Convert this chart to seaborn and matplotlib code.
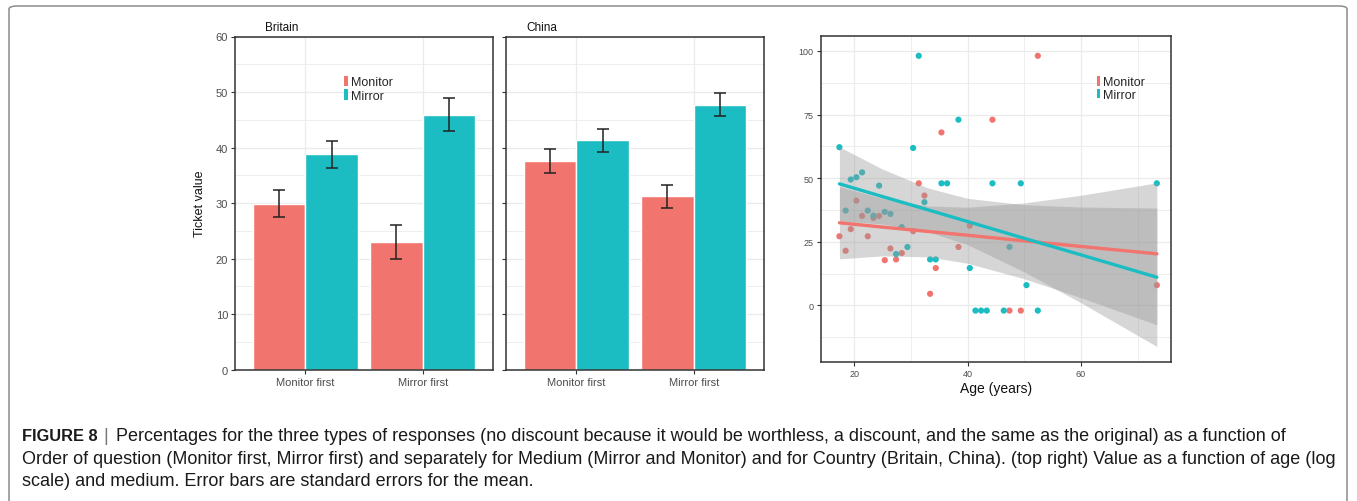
import numpy as np
import pandas as pd
import matplotlib
matplotlib.use("Agg")
import matplotlib.pyplot as plt
from matplotlib.patches import Patch, FancyBboxPatch
from matplotlib.ticker import MultipleLocator
import seaborn as sns

# -------------------------------------
# DATA
# -------------------------------------
orders = ["Monitor first", "Mirror first"]
media = ["Monitor", "Mirror"]

britain_monitor = [29.9, 23.0]
britain_mirror = [38.8, 45.9]
britain_monitor_se = [2.45, 3.0]
britain_mirror_se = [2.4, 3.0]

china_monitor = [37.6, 31.2]
china_mirror = [41.3, 47.7]
china_monitor_se = [2.1, 2.0]
china_mirror_se = [2.1, 2.05]

monitor_age = [17.4, 18.5, 19.4, 20.4, 21.4, 22.4, 23.4, 24.4, 25.4, 26.4, 27.4, 28.4, 30.4,
               31.4, 32.4, 33.4, 34.4, 35.4, 38.4, 40.4, 44.4, 47.4, 49.4, 52.4, 73.4]
monitor_value = [27.2, 21.5, 30.0, 41.2, 35.2, 27.2, 34.4, 35.2, 17.8, 22.4, 18.1, 20.6, 29.2,
                 48.0, 43.2, 4.6, 14.7, 68.0, 23.0, 31.4, 73.0, -2.0, -2.0, 98.1, 8.0]

mirror_age = [17.4, 18.5, 19.4, 20.4, 21.4, 22.4, 23.4, 24.4, 25.4, 26.4, 27.4, 28.4, 29.4,
              30.4, 31.4, 32.4, 33.4, 34.4, 35.4, 36.4, 38.4, 40.4, 41.4, 42.4, 43.4, 44.4,
              46.4, 47.4, 49.4, 50.4, 52.4, 73.4]
mirror_value = [62.2, 37.3, 49.5, 50.4, 52.3, 37.3, 35.3, 47.1, 36.8, 36.0, 20.2, 30.8, 23.0,
                61.9, 98.1, 40.6, 18.1, 18.1, 48.0, 48.0, 73.0, 14.7, -2.0, -2.0, -2.0, 48.0,
                -2.0, 23.0, 48.0, 8.0, -2.0, 48.0]

# fitted lines and 95% bands
fit_age = [17.4, 25, 33, 40, 50, 60, 73.4]
monitor_fit = [32.5, 30.8, 29.1, 27.6, 25.4, 23.2, 20.3]
monitor_lo = [18.3, 19.5, 19.1, 16.6, 10.5, 3.1, -7.6]
monitor_hi = [46.7, 42.1, 39.1, 38.6, 40.3, 43.3, 48.2]
mirror_fit = [47.8, 42.8, 37.6, 33.0, 26.4, 19.9, 11.1]
mirror_lo = [33.3, 32.0, 29.0, 23.9, 13.2, 1.1, -16.1]
mirror_hi = [62.3, 53.6, 46.2, 42.1, 39.6, 38.7, 38.3]

RED = "#F2746E"
CYAN = "#1CBDC2"
palette = {"Monitor": RED, "Mirror": CYAN}
GRID = "#EBEBEB"
TICKTXT = "#4D4D4D"

sns.set_theme(style="white")
plt.rcParams["font.family"] = ["Liberation Sans", "DejaVu Sans"]

fig = plt.figure(figsize=(13.57, 5.02), dpi=100)
W, H = 1357, 502


def fx(px):
    return px / W


def fy(py):
    return 1 - py / H


# -------------------------------------
# BAR PANELS
# -------------------------------------
def bar_panel(left, monitor, mirror, monitor_se, mirror_se, show_labels):
    ax = fig.add_axes([fx(left), fy(370.7), 258 / W, (370.7 - 37.5) / H])
    df = pd.DataFrame({
        "order": orders * 2,
        "medium": ["Monitor"] * 2 + ["Mirror"] * 2,
        "value": monitor + mirror,
    })
    sns.barplot(data=df, x="order", y="value", hue="medium", hue_order=media,
                order=orders, palette=palette, width=0.9, gap=0, errorbar=None,
                saturation=1, legend=False, ax=ax, zorder=2)
    for container, se in zip(ax.containers, [monitor_se, mirror_se]):
        for bar, e in zip(container, se):
            x = bar.get_x() + bar.get_width() / 2
            ax.errorbar(x, bar.get_height(), yerr=e, color="#222222", lw=1.1,
                        capsize=4.3, capthick=1.1, zorder=3)
    ax.set_xlim(-0.6, 1.6)
    ax.set_ylim(0, 60)
    ax.yaxis.set_major_locator(MultipleLocator(10))
    ax.yaxis.set_minor_locator(MultipleLocator(5))
    ax.grid(True, which="major", color=GRID, lw=0.9, zorder=0)
    ax.grid(True, which="minor", axis="y", color=GRID, lw=0.6, zorder=0)
    ax.set_axisbelow(True)
    ax.set_xlabel("")
    ax.set_ylabel("")
    ax.tick_params(axis="both", which="major", length=3, width=0.8, color="#333333",
                   labelsize=8, labelcolor=TICKTXT, pad=2, bottom=True, left=True)
    ax.tick_params(axis="both", which="minor", length=0)
    if not show_labels:
        ax.set_yticklabels([])
    for s in ax.spines.values():
        s.set_color("#333333")
        s.set_linewidth(1.1)
    return ax


ax_b = bar_panel(235, britain_monitor, britain_mirror, britain_monitor_se, britain_mirror_se, True)
ax_c = bar_panel(506, china_monitor, china_mirror, china_monitor_se, china_mirror_se, False)

fig.text(fx(265), fy(28), "Britain", fontsize=8.5, va="center", ha="left", color="#111111")
fig.text(fx(526), fy(28), "China", fontsize=8.5, va="center", ha="left", color="#111111")
fig.text(fx(200), fy(204), "Ticket value", fontsize=9, rotation=90,
         va="center", ha="center", color="#111111")

handles = [Patch(facecolor=palette[m], edgecolor="none", label=m) for m in media]
ax_b.legend(handles=handles, loc="upper left", bbox_to_anchor=(fx(344), fy(77)),
            bbox_transform=fig.transFigure, frameon=False, fontsize=9,
            handlelength=0.35, handleheight=0.9, handletextpad=0.25,
            labelspacing=0.05, borderpad=0, borderaxespad=0)

# -------------------------------------
# SCATTER PANEL
# -------------------------------------
ax_s = fig.add_axes([fx(820.7), fy(363), (1171 - 820.7) / W, (363 - 36.7) / H])
pts = pd.DataFrame({
    "age": monitor_age + mirror_age,
    "value": monitor_value + mirror_value,
    "medium": ["Monitor"] * len(monitor_age) + ["Mirror"] * len(mirror_age),
})
sns.scatterplot(data=pts, x="age", y="value", hue="medium", hue_order=media,
                palette=palette, s=20, edgecolor="none", legend=False, ax=ax_s, zorder=2)

for fit, lo, hi, col in [(monitor_fit, monitor_lo, monitor_hi, RED),
                         (mirror_fit, mirror_lo, mirror_hi, CYAN)]:
    ax_s.fill_between(fit_age, lo, hi, color="#999999", alpha=0.4, lw=0, zorder=3)
    sns.lineplot(x=fit_age, y=fit, color=col, lw=2.4, ax=ax_s, zorder=4)

ax_s.set_xlim(14.1, 75.9)
ax_s.set_ylim(-22.2, 106)
ax_s.xaxis.set_major_locator(MultipleLocator(20))
ax_s.xaxis.set_minor_locator(MultipleLocator(10))
ax_s.yaxis.set_major_locator(MultipleLocator(25))
ax_s.yaxis.set_minor_locator(MultipleLocator(12.5))
ax_s.grid(True, which="major", color=GRID, lw=0.9)
ax_s.grid(True, which="minor", color=GRID, lw=0.6)
ax_s.set_axisbelow(True)
ax_s.set_xlabel("Age (years)", fontsize=10, color="#111111", labelpad=2)
ax_s.set_ylabel("")
ax_s.tick_params(axis="both", which="major", length=3, width=0.8, color="#333333",
                 labelsize=6.5, labelcolor=TICKTXT, pad=2, bottom=True, left=True)
ax_s.tick_params(axis="both", which="minor", length=0)
for s in ax_s.spines.values():
    s.set_color("#333333")
    s.set_linewidth(1.1)

ax_s.legend(handles=handles, loc="upper left", bbox_to_anchor=(fx(1097), fy(77)),
            bbox_transform=fig.transFigure, frameon=False, fontsize=9,
            handlelength=0.25, handleheight=0.8, handletextpad=0.25,
            labelspacing=0.05, borderpad=0, borderaxespad=0)

# -------------------------------------
# CAPTION AND FRAME
# -------------------------------------
frame = FancyBboxPatch((fx(9), fy(560)), fx(1347) - fx(9), fy(7) - fy(560),
                       boxstyle="round,pad=0,rounding_size=0.006",
                       transform=fig.transFigure, facecolor="none",
                       edgecolor="#8C8C8C", lw=1.1)
fig.patches.append(frame)

cap_lines = [
    "Percentages for the three types of responses (no discount because it would be worthless, "
    "a discount, and the same as the original) as a function of",
    "Order of question (Monitor first, Mirror first) and separately for Medium (Mirror and Monitor) "
    "and for Country (Britain, China). (top right) Value as a function of age (log",
    "scale) and medium. Error bars are standard errors for the mean.",
]
cap_size = 13.0
head = fig.text(fx(22), fy(437), "FIGURE 8", fontsize=11.8, fontweight="bold",
                va="center", ha="left", color="#1A1A1A")
fig.canvas.draw()
bb = head.get_window_extent()
bar_x = bb.x1 + 6
fig.text(bar_x / W, fy(437), "|", fontsize=cap_size, va="center", ha="left", color="#777777")
fig.text((bar_x + 12) / W, fy(437), cap_lines[0], fontsize=cap_size, va="center",
         ha="left", color="#1A1A1A")
fig.text(fx(22), fy(460), cap_lines[1], fontsize=cap_size, va="center", ha="left", color="#1A1A1A")
fig.text(fx(22), fy(482), cap_lines[2], fontsize=cap_size, va="center", ha="left", color="#1A1A1A")

fig.savefig("out.png", dpi=100)
